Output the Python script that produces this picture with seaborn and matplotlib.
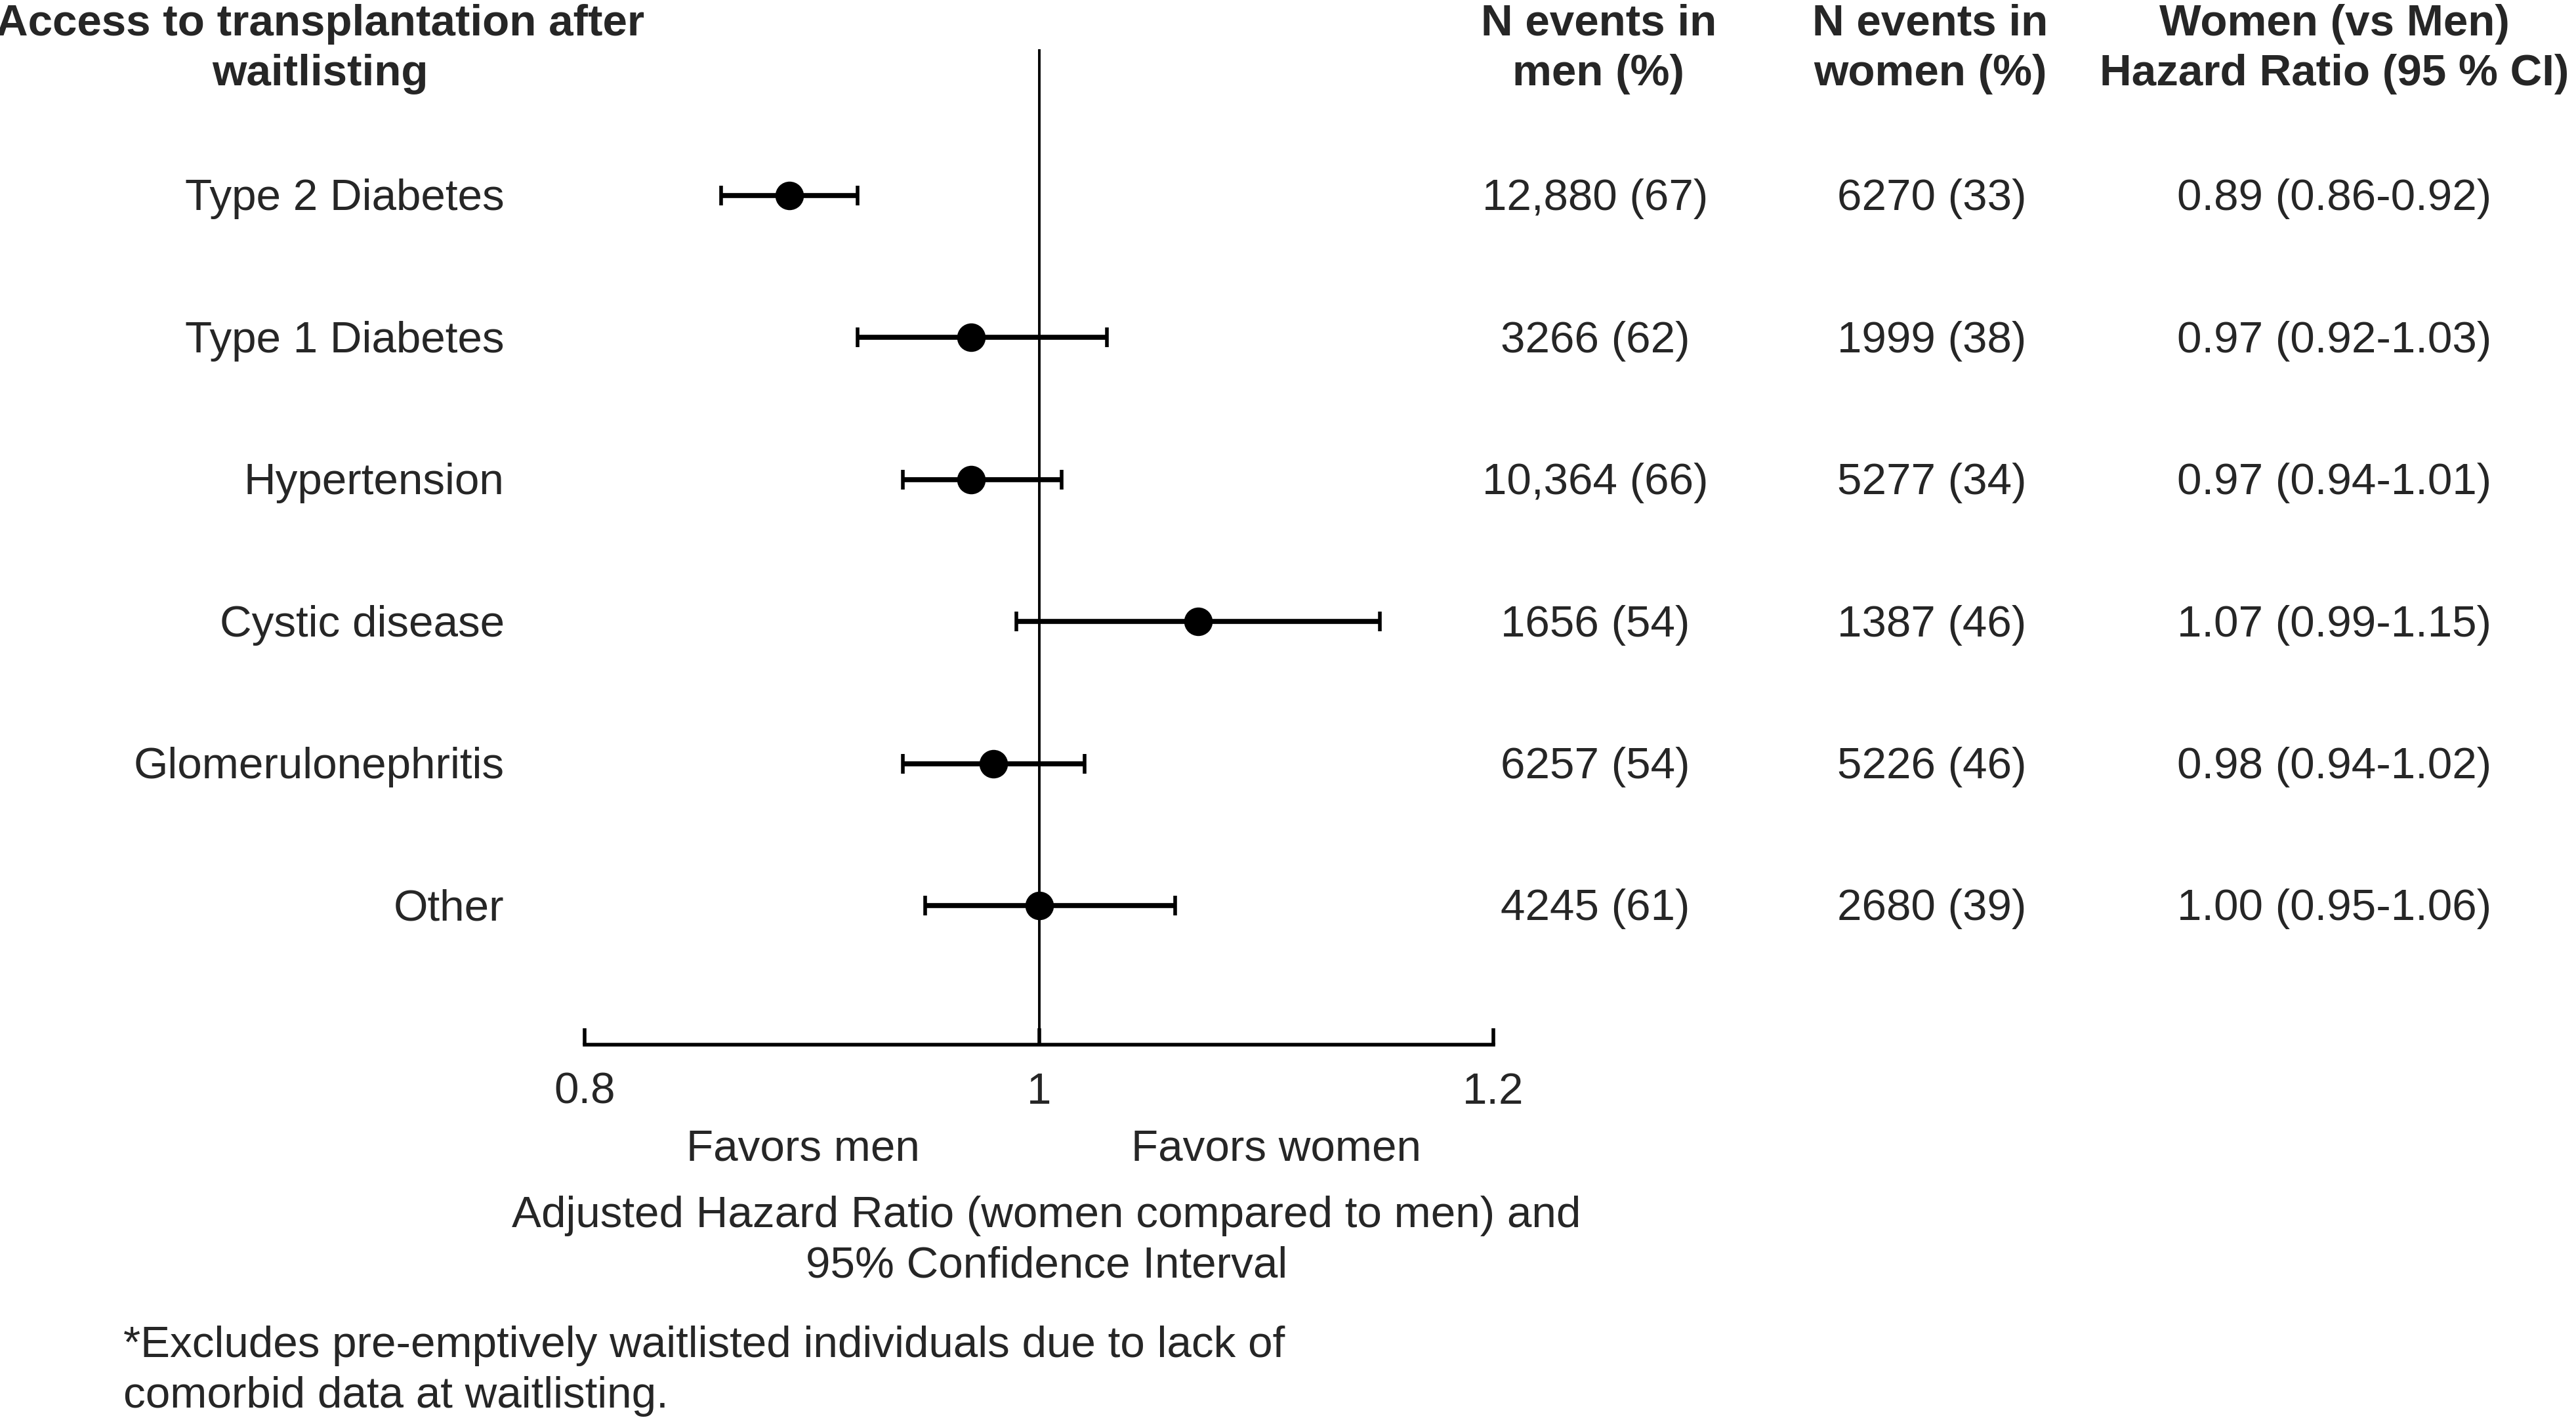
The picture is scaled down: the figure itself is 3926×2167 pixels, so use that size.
import matplotlib
matplotlib.use("Agg")
import matplotlib.pyplot as plt
import matplotlib.transforms as mtransforms
import pandas as pd
import seaborn as sns

# Forest plot data
groups = ["Type 2 Diabetes", "Type 1 Diabetes", "Hypertension",
          "Cystic disease", "Glomerulonephritis", "Other"]
hr = [0.89, 0.97, 0.97, 1.07, 0.98, 1.00]
ci_low = [0.86, 0.92, 0.94, 0.99, 0.94, 0.95]
ci_high = [0.92, 1.03, 1.01, 1.15, 1.02, 1.06]
men_events = ["12,880 (67)", "3266 (62)", "10,364 (66)", "1656 (54)", "6257 (54)", "4245 (61)"]
women_events = ["6270 (33)", "1999 (38)", "5277 (34)", "1387 (46)", "5226 (46)", "2680 (39)"]
x_ticks = [0.8, 1.0, 1.2]
x_tick_labels = ["0.8", "1", "1.2"]

df = pd.DataFrame({"group": groups, "hr": hr, "lo": ci_low, "hi": ci_high})
df["row"] = range(len(df))
df["hr_text"] = [f"{h:.2f} ({l:.2f}-{u:.2f})" for h, l, u in zip(hr, ci_low, ci_high)]

sns.set_theme(style="white")
plt.rcParams["font.family"] = ["Liberation Sans", "DejaVu Sans"]
FS = 48.5
LS = 1.3

W, H = 1568, 865  # layout reference grid


def fx(x):
    return x / W


def fy(y):
    return 1 - y / H


fig = plt.figure(figsize=(39.26, 21.67), dpi=100)
ax = fig.add_axes([0.2270, 0.2653, 0.5797 - 0.2270, 0.9654 - 0.2653])

ax.axvline(1.0, color="black", lw=2.8, zorder=1)
ax.errorbar(df["hr"], df["row"],
            xerr=[df["hr"] - df["lo"], df["hi"] - df["hr"]],
            fmt="none", ecolor="black", elinewidth=5.5, capsize=11, capthick=4, zorder=2)
sns.scatterplot(data=df, x="hr", y="row", color="black", s=980, marker="o",
                edgecolor="black", linewidth=0, ax=ax, zorder=3)

ax.set_xlim(0.8, 1.2)
ax.set_ylim(5.98, -1.03)
ax.set_xticks(x_ticks)
ax.set_xticklabels(x_tick_labels, fontsize=FS)
ax.set_yticks([])
ax.set_xlabel("")
ax.set_ylabel("")
for side in ["top", "right", "left"]:
    ax.spines[side].set_visible(False)
ax.spines["bottom"].set_linewidth(4)
ax.spines["bottom"].set_color("black")
ax.tick_params(axis="x", direction="in", length=18, width=4, color="black", pad=30,
               bottom=True)
ax.patch.set_alpha(0)

# row-aligned text (small nudge so text centres sit on the markers)
trans = mtransforms.blended_transform_factory(fig.transFigure, ax.transData)
for _, r in df.iterrows():
    y = r["row"] + 0.025
    fig.text(fx(307), y, r["group"], ha="right", va="center", fontsize=FS, transform=trans)
    fig.text(fx(971), y, men_events[r["row"]], ha="center", va="center", fontsize=FS, transform=trans)
    fig.text(fx(1176), y, women_events[r["row"]], ha="center", va="center", fontsize=FS, transform=trans)
    fig.text(fx(1421), y, r["hr_text"], ha="center", va="center", fontsize=FS, transform=trans)

# headers
fig.text(fx(195), fy(30), "Access to transplantation after\nwaitlisting", ha="center", va="center",
         fontsize=FS, fontweight="bold", multialignment="center", linespacing=LS)
fig.text(fx(973), fy(30), "N events in\nmen (%)", ha="center", va="center",
         fontsize=FS, fontweight="bold", multialignment="center", linespacing=LS)
fig.text(fx(1175), fy(30), "N events in\nwomen (%)", ha="center", va="center",
         fontsize=FS, fontweight="bold", multialignment="center", linespacing=LS)
fig.text(fx(1421), fy(30), "Women (vs Men)\nHazard Ratio (95 % CI)", ha="center", va="center",
         fontsize=FS, fontweight="bold", multialignment="center", linespacing=LS)

# axis annotations
fig.text(fx(489), fy(699), "Favors men", ha="center", va="center", fontsize=FS)
fig.text(fx(777), fy(699), "Favors women", ha="center", va="center", fontsize=FS)
fig.text(fx(637), fy(755), "Adjusted Hazard Ratio (women compared to men) and\n95% Confidence Interval",
         ha="center", va="center", fontsize=FS, multialignment="center", linespacing=LS)
fig.text(fx(75), fy(834), "*Excludes pre-emptively waitlisted individuals due to lack of\ncomorbid data at waitlisting.",
         ha="left", va="center", fontsize=FS, multialignment="left", linespacing=LS)

fig.savefig("out.png", dpi=100, facecolor="white")
plt.close(fig)
